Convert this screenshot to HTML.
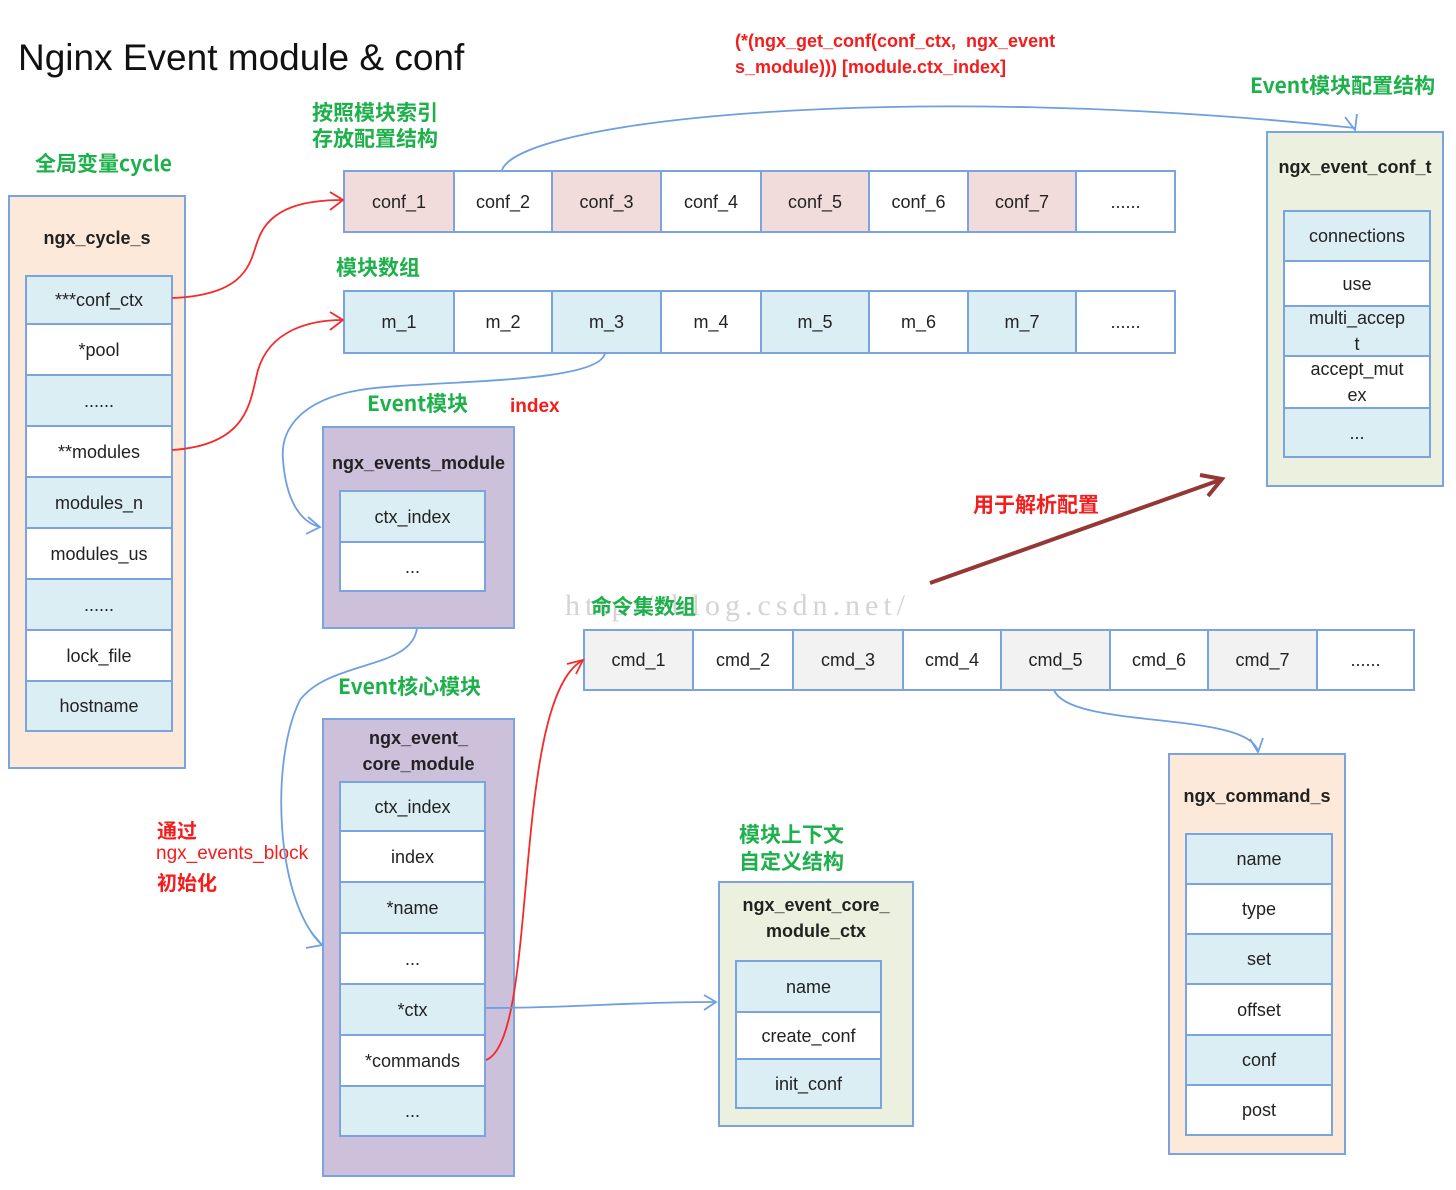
<!DOCTYPE html>
<html><head><meta charset="utf-8"><style>
body{margin:0;width:1456px;height:1190px;background:#fff;position:relative;overflow:hidden;font-family:"Liberation Sans","Noto Sans CJK SC",sans-serif;}
div{position:absolute;box-sizing:border-box;}
.c{border:2px solid #7ba3df;display:flex;align-items:center;justify-content:center;text-align:center;font-size:18px;color:#222;line-height:22px;}
.b{background:#dbeef4}.w{background:#fff}.p{background:#f2dcdb}.g{background:#f2f2f2}
.box{border:2px solid #7ba3df;}
.t{font-size:18px;font-weight:bold;color:#222;text-align:center;line-height:26px;}
.gr{color:#1db04b;font-weight:bold;font-size:21px;white-space:nowrap;font-family:"Noto Sans CJK SC",sans-serif;}
.rd{color:#f51c1c;font-weight:bold;font-size:19px;white-space:nowrap;}
</style></head><body>
<div style="left:18px;top:37px;font-size:37px;color:#111;white-space:nowrap">Nginx Event module &amp; conf</div>
<div class="rd" style="left:735px;top:28px;line-height:26px;font-size:18px">(*(ngx_get_conf(conf_ctx,&nbsp; ngx_event<br>s_module))) [module.ctx_index]</div>
<div class="gr" style="left:1250px;top:70px">Event模块配置结构</div>
<div class="gr" style="left:312px;top:99px;line-height:26px">按照模块索引<br>存放配置结构</div>
<div class="gr" style="left:35px;top:148px">全局变量cycle</div>
<div class="gr" style="left:336px;top:252px">模块数组</div>

<div class="box" style="left:8px;top:195px;width:178px;height:574px;background:#fde9d9"></div>
<div class="t" style="left:8px;top:225px;width:178px">ngx_cycle_s</div>
<div class="c b" style="left:25px;top:275px;width:148px;height:50px">***conf_ctx</div>
<div class="c w" style="left:25px;top:323px;width:148px;height:53px">*pool</div>
<div class="c b" style="left:25px;top:374px;width:148px;height:53px">......</div>
<div class="c w" style="left:25px;top:425px;width:148px;height:53px">**modules</div>
<div class="c b" style="left:25px;top:476px;width:148px;height:53px">modules_n</div>
<div class="c w" style="left:25px;top:527px;width:148px;height:53px">modules_us</div>
<div class="c b" style="left:25px;top:578px;width:148px;height:53px">......</div>
<div class="c w" style="left:25px;top:629px;width:148px;height:53px">lock_file</div>
<div class="c b" style="left:25px;top:680px;width:148px;height:52px">hostname</div>

<div class="c p" style="left:343px;top:170px;width:112px;height:63px">conf_1</div>
<div class="c w" style="left:453px;top:170px;width:100px;height:63px">conf_2</div>
<div class="c p" style="left:551px;top:170px;width:111px;height:63px">conf_3</div>
<div class="c w" style="left:660px;top:170px;width:102px;height:63px">conf_4</div>
<div class="c p" style="left:760px;top:170px;width:110px;height:63px">conf_5</div>
<div class="c w" style="left:868px;top:170px;width:101px;height:63px">conf_6</div>
<div class="c p" style="left:967px;top:170px;width:110px;height:63px">conf_7</div>
<div class="c w" style="left:1075px;top:170px;width:101px;height:63px">......</div>
<div class="c b" style="left:343px;top:290px;width:112px;height:64px">m_1</div>
<div class="c w" style="left:453px;top:290px;width:100px;height:64px">m_2</div>
<div class="c b" style="left:551px;top:290px;width:111px;height:64px">m_3</div>
<div class="c w" style="left:660px;top:290px;width:102px;height:64px">m_4</div>
<div class="c b" style="left:760px;top:290px;width:110px;height:64px">m_5</div>
<div class="c w" style="left:868px;top:290px;width:101px;height:64px">m_6</div>
<div class="c b" style="left:967px;top:290px;width:110px;height:64px">m_7</div>
<div class="c w" style="left:1075px;top:290px;width:101px;height:64px">......</div>

<div class="gr" style="left:367px;top:388px">Event模块</div>
<div class="rd" style="left:510px;top:396px">index</div>
<div class="box" style="left:322px;top:426px;width:193px;height:203px;background:#ccc0da"></div>
<div class="t" style="left:322px;top:450px;width:193px">ngx_events_module</div>
<div class="c b" style="left:339px;top:490px;width:147px;height:53px">ctx_index</div>
<div class="c w" style="left:339px;top:541px;width:147px;height:51px">...</div>

<div class="gr" style="left:338px;top:671px">Event核心模块</div>
<div class="box" style="left:322px;top:718px;width:193px;height:459px;background:#ccc0da"></div>
<div class="t" style="left:322px;top:725px;width:193px">ngx_event_<br>core_module</div>
<div class="c b" style="left:339px;top:781px;width:147px;height:51px">ctx_index</div>
<div class="c w" style="left:339px;top:830px;width:147px;height:53px">index</div>
<div class="c b" style="left:339px;top:881px;width:147px;height:53px">*name</div>
<div class="c w" style="left:339px;top:932px;width:147px;height:53px">...</div>
<div class="c b" style="left:339px;top:983px;width:147px;height:53px">*ctx</div>
<div class="c w" style="left:339px;top:1034px;width:147px;height:53px">*commands</div>
<div class="c b" style="left:339px;top:1085px;width:147px;height:52px">...</div>

<div class="rd" style="left:157px;top:815px;font-size:20px;font-family:'Noto Sans CJK SC',sans-serif">通过</div>
<div style="left:156px;top:843px;color:#f51c1c;font-size:19px;white-space:nowrap">ngx_events_block</div>
<div class="rd" style="left:157px;top:867px;font-size:20px;font-family:'Noto Sans CJK SC',sans-serif">初始化</div>

<div class="gr" style="left:739px;top:821px;line-height:27px">模块上下文<br>自定义结构</div>
<div class="box" style="left:718px;top:881px;width:196px;height:246px;background:#ebf1de"></div>
<div class="t" style="left:718px;top:892px;width:196px">ngx_event_core_<br>module_ctx</div>
<div class="c b" style="left:735px;top:960px;width:147px;height:53px">name</div>
<div class="c w" style="left:735px;top:1011px;width:147px;height:49px">create_conf</div>
<div class="c b" style="left:735px;top:1058px;width:147px;height:51px">init_conf</div>

<div style="left:565px;top:589px;font-family:'Liberation Serif',serif;font-size:30px;letter-spacing:5px;color:#d4d4d4;white-space:nowrap">http://blog.csdn.net/</div>
<div class="gr" style="left:591px;top:591px">命令集数组</div>
<div class="c g" style="left:583px;top:629px;width:111px;height:62px">cmd_1</div>
<div class="c w" style="left:692px;top:629px;width:102px;height:62px">cmd_2</div>
<div class="c g" style="left:792px;top:629px;width:112px;height:62px">cmd_3</div>
<div class="c w" style="left:902px;top:629px;width:100px;height:62px">cmd_4</div>
<div class="c g" style="left:1000px;top:629px;width:111px;height:62px">cmd_5</div>
<div class="c w" style="left:1109px;top:629px;width:100px;height:62px">cmd_6</div>
<div class="c g" style="left:1207px;top:629px;width:111px;height:62px">cmd_7</div>
<div class="c w" style="left:1316px;top:629px;width:99px;height:62px">......</div>

<div class="box" style="left:1168px;top:753px;width:178px;height:402px;background:#fde9d9"></div>
<div class="t" style="left:1168px;top:783px;width:178px">ngx_command_s</div>
<div class="c b" style="left:1185px;top:833px;width:148px;height:52px">name</div>
<div class="c w" style="left:1185px;top:883px;width:148px;height:52px">type</div>
<div class="c b" style="left:1185px;top:933px;width:148px;height:52px">set</div>
<div class="c w" style="left:1185px;top:983px;width:148px;height:53px">offset</div>
<div class="c b" style="left:1185px;top:1034px;width:148px;height:52px">conf</div>
<div class="c w" style="left:1185px;top:1084px;width:148px;height:52px">post</div>

<div class="box" style="left:1266px;top:131px;width:178px;height:356px;background:#ebf1de"></div>
<div class="t" style="left:1266px;top:154px;width:178px">ngx_event_conf_t</div>
<div class="c b" style="left:1283px;top:210px;width:148px;height:52px">connections</div>
<div class="c w" style="left:1283px;top:260px;width:148px;height:47px">use</div>
<div class="c b" style="left:1283px;top:305px;width:148px;height:52px;line-height:26px">multi_accep<br>t</div>
<div class="c w" style="left:1283px;top:355px;width:148px;height:54px;line-height:26px">accept_mut<br>ex</div>
<div class="c b" style="left:1283px;top:407px;width:148px;height:51px">...</div>

<div class="rd" style="left:973px;top:489px;font-size:21px;font-family:'Noto Sans CJK SC',sans-serif">用于解析配置</div>

<svg width="1456" height="1190" style="position:absolute;left:0;top:0" fill="none" stroke-width="1.8">
<g stroke="#f52a2a">
<path d="M172,298 C250,295 250,260 258,240 C270,205 310,200 343,200"/>
<path d="M330,192 L343,200 L330,210"/>
<path d="M172,450 C250,445 250,400 258,370 C270,330 310,320 343,320"/>
<path d="M330,312 L343,320 L330,330"/>
<path d="M486,1060 C540,1040 510,700 583,660"/>
<path d="M567,664 L583,660 L576,674"/>
</g>
<g stroke="#6e9fe0">
<path d="M502,170 C520,120 900,80 1355,128"/>
<path d="M1345,117 L1355,130 L1357,114"/>
<path d="M605,353 C600,385 420,380 360,390 C300,400 280,430 283,460 C286,500 300,522 320,527"/>
<path d="M308,517 L320,527 L306,534"/>
<path d="M417,628 C412,670 330,660 300,700 C270,760 275,900 322,945"/>
<path d="M311,932 L322,945 L306,948"/>
<path d="M486,1008 C580,1008 620,1002 716,1002"/>
<path d="M704,995 L716,1002 L704,1010"/>
<path d="M1054,690 C1070,730 1250,710 1258,752"/>
<path d="M1250,739 L1258,752 L1263,738"/>
</g>
<g stroke="#953735" stroke-width="4">
<path d="M930,583 L1220,480"/>
<path d="M1200,475 L1222,479 L1208,496"/>
</g>
</svg>
</body></html>
